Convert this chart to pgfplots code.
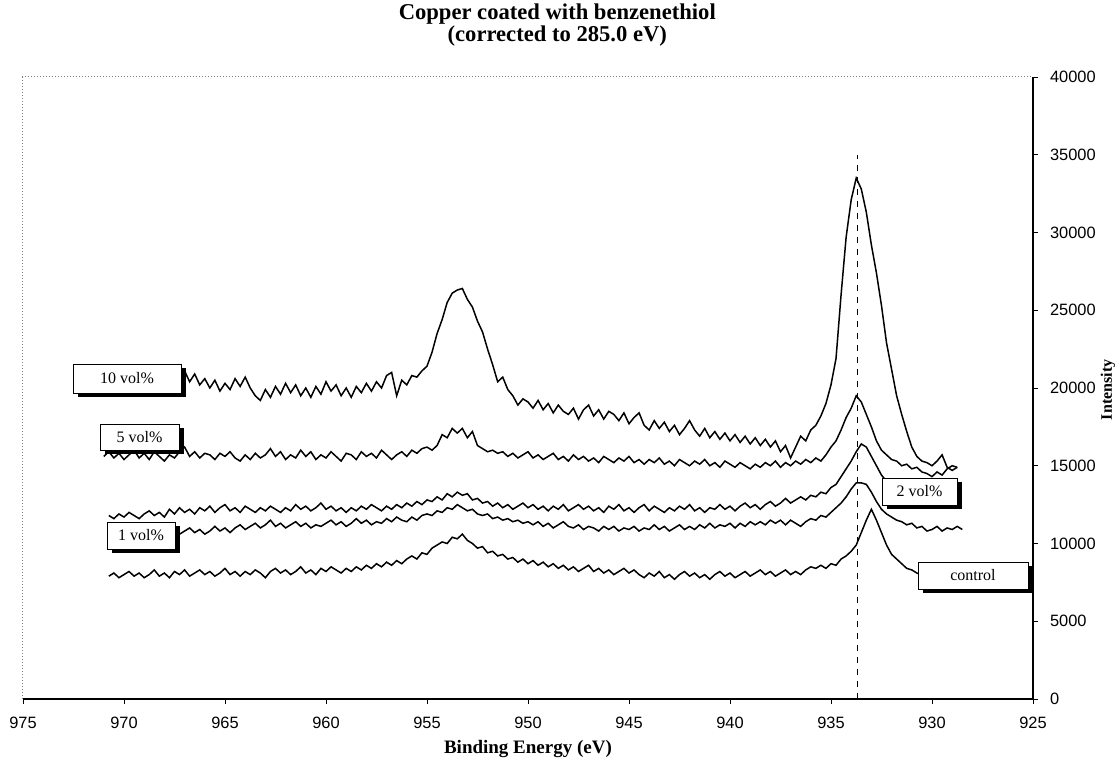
\documentclass[border=0pt]{standalone}
\usepackage{fontspec}
\setmainfont{Liberation Serif}
\newfontfamily\arialfont{Liberation Sans}
\usepackage{pgfplots}
\pgfplotsset{compat=1.18}
\usetikzlibrary{shadows}
\begin{document}
\begin{tikzpicture}
\useasboundingbox (-11.5pt,-33pt) rectangle (546pt,349.5pt);
\begin{axis}[
  at={(0,0)}, anchor=south west,
  scale only axis, width=505pt, height=311pt,
  x dir=reverse, xmin=925, xmax=975, ymin=0, ymax=40000,
  xtick={925,930,...,975}, ytick={0,5000,...,40000},
  scaled y ticks=false, scaled x ticks=false,
  xtick pos=bottom, ytick pos=right, yticklabel pos=right,
  tick align=outside, major tick length=2.5pt,
  axis line style={draw=none},
  tick style={black, line width=0.4pt},
  /pgf/number format/assume math mode=true,
  /pgf/number format/set thousands separator={},
  /pgf/number format/fixed, /pgf/number format/precision=0,
  ticklabel style={font=\arialfont\fontsize{8.2}{9}\selectfont},
  xticklabel shift=3pt,
  yticklabel shift=2.5pt,
  clip=false,
]
\draw[gray, densely dotted, line width=0.5pt] (rel axis cs:0,0) -- (rel axis cs:0,1) -- (rel axis cs:1,1);
\draw[black, line width=0.6pt] (rel axis cs:1,1) -- (rel axis cs:1,0) -- (rel axis cs:0,0);

% 10 vol%
\addplot[black, line width=0.75pt] coordinates {
(971.00,20300)(970.75,20600)(970.50,20100)(970.25,20500)(970.00,20800)(969.75,20200)(969.50,20400)(969.25,20900)(969.00,20300)(968.75,20600)
(968.50,20100)(968.25,20700)(968.00,20400)(967.75,20900)(967.50,20200)(967.25,20800)(967.00,21100)(966.75,20400)(966.50,20900)(966.25,20200)
(966.00,20600)(965.75,20000)(965.50,20500)(965.25,19800)(965.00,20300)(964.75,19900)(964.50,20600)(964.25,20100)(964.00,20700)(963.75,20000)
(963.50,19500)(963.25,19200)(963.00,19900)(962.75,19400)(962.50,20100)(962.25,19600)(962.00,20300)(961.75,19700)(961.50,20200)(961.25,19500)
(961.00,20000)(960.75,19400)(960.50,20100)(960.25,19600)(960.00,20400)(959.75,19800)(959.50,20200)(959.25,19500)(959.00,20000)(958.75,19400)
(958.50,20100)(958.25,19700)(958.00,20300)(957.75,19800)(957.50,20400)(957.25,20000)(957.00,20800)(956.75,21000)(956.50,19500)(956.25,20500)
(956.00,20200)(955.75,20800)(955.50,20700)(955.25,21100)(955.00,21400)(954.75,22300)(954.50,23500)(954.25,24400)(954.00,25500)(953.75,26100)
(953.50,26300)(953.25,26400)(953.00,25700)(952.75,25200)(952.50,24300)(952.25,23600)(952.00,22500)(951.75,21500)(951.50,20400)(951.25,20700)
(951.00,19900)(950.75,19500)(950.50,18900)(950.25,19300)(950.00,19100)(949.75,18700)(949.50,19200)(949.25,18600)(949.00,19000)(948.75,18400)
(948.50,18900)(948.25,18500)(948.00,18300)(947.75,18700)(947.50,18000)(947.25,18600)(947.00,18900)(946.75,18200)(946.50,18600)(946.25,18000)
(946.00,18500)(945.75,18300)(945.50,17900)(945.25,18400)(945.00,17700)(944.75,18100)(944.50,18400)(944.25,17600)(944.00,17300)(943.75,17900)
(943.50,17400)(943.25,17800)(943.00,17200)(942.75,17600)(942.50,17000)(942.25,17400)(942.00,17900)(941.75,17300)(941.50,16900)(941.25,17400)
(941.00,16800)(940.75,17200)(940.50,16700)(940.25,17100)(940.00,16600)(939.75,17000)(939.50,16500)(939.25,16900)(939.00,16400)(938.75,16800)
(938.50,16300)(938.25,16700)(938.00,16200)(937.75,16600)(937.50,15900)(937.25,16300)(937.00,15500)(936.75,16200)(936.50,16900)(936.25,16600)
(936.00,17300)(935.75,17600)(935.50,18200)(935.25,19000)(935.00,20200)(934.75,21900)(934.50,26000)(934.25,29700)(934.00,32100)(933.75,33500)
(933.50,32800)(933.25,31300)(933.00,29200)(932.75,27400)(932.50,25300)(932.25,22900)(932.00,21200)(931.75,19500)(931.50,18300)(931.25,17200)
(931.00,16200)(930.75,15600)(930.50,15300)(930.25,15200)(930.00,15000)(929.75,15300)(929.50,15700)(929.25,14900)(929.00,14700)(928.75,14900)
};
% 5 vol%
\addplot[black, line width=0.75pt] coordinates {
(971.00,15600)(970.75,15900)(970.50,15500)(970.25,15800)(970.00,15400)(969.75,15700)(969.50,16000)(969.25,15500)(969.00,15800)(968.75,15400)
(968.50,15900)(968.25,15600)(968.00,15300)(967.75,15700)(967.50,15500)(967.25,15900)(967.00,16200)(966.75,15600)(966.50,15900)(966.25,15500)
(966.00,15800)(965.75,15700)(965.50,15400)(965.25,15800)(965.00,15600)(964.75,15900)(964.50,15500)(964.25,15300)(964.00,15700)(963.75,15400)
(963.50,15800)(963.25,15500)(963.00,15700)(962.75,16100)(962.50,15600)(962.25,15900)(962.00,15400)(961.75,15700)(961.50,15500)(961.25,16000)
(961.00,15600)(960.75,15900)(960.50,15400)(960.25,15700)(960.00,15500)(959.75,15900)(959.50,15600)(959.25,15300)(959.00,15800)(958.75,15700)
(958.50,15400)(958.25,15900)(958.00,15600)(957.75,15800)(957.50,15500)(957.25,16000)(957.00,15700)(956.75,15400)(956.50,15700)(956.25,15900)
(956.00,15600)(955.75,16000)(955.50,15800)(955.25,16100)(955.00,16200)(954.75,16000)(954.50,16300)(954.25,17000)(954.00,16800)(953.75,17400)
(953.50,17100)(953.25,17400)(953.00,16800)(952.75,17200)(952.50,16300)(952.25,16100)(952.00,15900)(951.75,16000)(951.50,15800)(951.25,15900)
(951.00,15600)(950.75,15800)(950.50,15500)(950.25,15700)(950.00,15900)(949.75,15500)(949.50,15700)(949.25,15400)(949.00,15600)(948.75,15800)
(948.50,15400)(948.25,15600)(948.00,15300)(947.75,15700)(947.50,15400)(947.25,15600)(947.00,15300)(946.75,15500)(946.50,15200)(946.25,15600)
(946.00,15400)(945.75,15200)(945.50,15500)(945.25,15300)(945.00,15600)(944.75,15200)(944.50,15400)(944.25,15100)(944.00,15400)(943.75,15200)
(943.50,15500)(943.25,15100)(943.00,15300)(942.75,15000)(942.50,15400)(942.25,15200)(942.00,15000)(941.75,15300)(941.50,15100)(941.25,15400)
(941.00,15000)(940.75,15200)(940.50,14900)(940.25,15300)(940.00,15100)(939.75,14900)(939.50,15200)(939.25,15000)(939.00,14800)(938.75,15100)
(938.50,14900)(938.25,15200)(938.00,15000)(937.75,15300)(937.50,14900)(937.25,15200)(937.00,15000)(936.75,15300)(936.50,15100)(936.25,15400)
(936.00,15200)(935.75,15500)(935.50,15300)(935.25,15700)(935.00,16200)(934.75,16600)(934.50,17300)(934.25,18100)(934.00,18700)(933.75,19500)
(933.50,19100)(933.25,18300)(933.00,17500)(932.75,16600)(932.50,16000)(932.25,15700)(932.00,15400)(931.75,15300)(931.50,15000)(931.25,15100)
(931.00,14800)(930.75,14900)(930.50,14600)(930.25,14500)(930.00,14300)(929.75,14600)(929.50,14400)(929.25,14800)(929.00,15000)(928.75,14900)
};
% third curve
\addplot[black, line width=0.75pt] coordinates {
(970.75,11800)(970.50,11600)(970.25,11900)(970.00,11700)(969.75,12000)(969.50,11800)(969.25,11600)(969.00,11900)(968.75,12100)
(968.50,11800)(968.25,12000)(968.00,11700)(967.75,12200)(967.50,11900)(967.25,12300)(967.00,12000)(966.75,12200)(966.50,11900)(966.25,12300)
(966.00,12100)(965.75,12400)(965.50,12000)(965.25,12300)(965.00,12500)(964.75,12100)(964.50,12300)(964.25,12000)(964.00,12400)(963.75,12200)
(963.50,12000)(963.25,12300)(963.00,12100)(962.75,12400)(962.50,12200)(962.25,12000)(962.00,12300)(961.75,12100)(961.50,12500)(961.25,12200)
(961.00,12400)(960.75,12100)(960.50,12300)(960.25,12600)(960.00,12200)(959.75,12400)(959.50,12100)(959.25,12300)(959.00,12000)(958.75,12300)
(958.50,12100)(958.25,12400)(958.00,12200)(957.75,12500)(957.50,12300)(957.25,12100)(957.00,12400)(956.75,12200)(956.50,12500)(956.25,12300)
(956.00,12600)(955.75,12400)(955.50,12700)(955.25,12500)(955.00,12800)(954.75,12700)(954.50,13000)(954.25,12800)(954.00,13200)(953.75,13000)
(953.50,13300)(953.25,13100)(953.00,13200)(952.75,12800)(952.50,12900)(952.25,12600)(952.00,12700)(951.75,12400)(951.50,12600)(951.25,12300)
(951.00,12500)(950.75,12200)(950.50,12400)(950.25,12600)(950.00,12300)(949.75,12500)(949.50,12200)(949.25,12400)(949.00,12100)(948.75,12400)
(948.50,12200)(948.25,12500)(948.00,12100)(947.75,12300)(947.50,12500)(947.25,12200)(947.00,12400)(946.75,12100)(946.50,12300)(946.25,12000)
(946.00,12400)(945.75,12200)(945.50,12500)(945.25,12100)(945.00,12300)(944.75,12000)(944.50,12300)(944.25,12500)(944.00,12100)(943.75,12400)
(943.50,12200)(943.25,12000)(943.00,12300)(942.75,12100)(942.50,12400)(942.25,12200)(942.00,12500)(941.75,12100)(941.50,12300)(941.25,12000)
(941.00,12300)(940.75,12200)(940.50,12500)(940.25,12200)(940.00,12400)(939.75,12100)(939.50,12400)(939.25,12600)(939.00,12300)(938.75,12500)
(938.50,12200)(938.25,12500)(938.00,12700)(937.75,12400)(937.50,12600)(937.25,12900)(937.00,12600)(936.75,12800)(936.50,13000)(936.25,12800)
(936.00,13100)(935.75,13000)(935.50,13300)(935.25,13200)(935.00,13600)(934.75,13800)(934.50,14300)(934.25,14800)(934.00,15300)(933.75,15900)
(933.50,16400)(933.25,16200)(933.00,15600)(932.75,15000)(932.50,14400)(932.25,14000)(932.00,13600)(931.75,13400)(931.50,13300)(931.25,13200)
(931.00,13300)(930.75,13200)(930.50,13300)(930.25,13100)(930.00,13200)(929.75,13300)(929.50,13100)(929.25,13200)(929.00,13300)(928.75,13200)
};
% fourth curve
\addplot[black, line width=0.75pt] coordinates {
(970.75,10600)(970.50,10800)(970.25,10500)(970.00,10700)(969.75,10900)(969.50,10600)(969.25,10800)(969.00,10500)(968.75,10700)
(968.50,10900)(968.25,10600)(968.00,10800)(967.75,10700)(967.50,10900)(967.25,10600)(967.00,10800)(966.75,11000)(966.50,10700)(966.25,10900)
(966.00,10600)(965.75,10800)(965.50,11100)(965.25,10800)(965.00,11000)(964.75,10700)(964.50,11000)(964.25,11200)(964.00,10900)(963.75,11100)
(963.50,11300)(963.25,11000)(963.00,11200)(962.75,11500)(962.50,11100)(962.25,11300)(962.00,11000)(961.75,11200)(961.50,11400)(961.25,11100)
(961.00,11300)(960.75,11000)(960.50,11200)(960.25,11100)(960.00,11300)(959.75,11500)(959.50,11200)(959.25,11400)(959.00,11100)(958.75,11300)
(958.50,11600)(958.25,11300)(958.00,11500)(957.75,11200)(957.50,11400)(957.25,11300)(957.00,11600)(956.75,11400)(956.50,11700)(956.25,11500)
(956.00,11400)(955.75,11700)(955.50,11500)(955.25,11800)(955.00,11900)(954.75,11800)(954.50,12100)(954.25,12000)(954.00,12300)(953.75,12200)
(953.50,12500)(953.25,12300)(953.00,12100)(952.75,12200)(952.50,11900)(952.25,11800)(952.00,11900)(951.75,11600)(951.50,11700)(951.25,11500)
(951.00,11600)(950.75,11400)(950.50,11500)(950.25,11300)(950.00,11400)(949.75,11200)(949.50,11400)(949.25,11100)(949.00,11300)(948.75,11000)
(948.50,11200)(948.25,11400)(948.00,11100)(947.75,11000)(947.50,11200)(947.25,10900)(947.00,11100)(946.75,11000)(946.50,10800)(946.25,11100)
(946.00,10900)(945.75,11100)(945.50,10800)(945.25,11000)(945.00,10900)(944.75,11100)(944.50,10800)(944.25,11000)(944.00,10900)(943.75,11200)
(943.50,10900)(943.25,11100)(943.00,10800)(942.75,11000)(942.50,11200)(942.25,10900)(942.00,11100)(941.75,10900)(941.50,11200)(941.25,11000)
(941.00,11300)(940.75,11000)(940.50,11200)(940.25,11100)(940.00,11300)(939.75,11000)(939.50,11300)(939.25,11100)(939.00,11400)(938.75,11200)
(938.50,11400)(938.25,11200)(938.00,11500)(937.75,11300)(937.50,11500)(937.25,11200)(937.00,11500)(936.75,11300)(936.50,11100)(936.25,11400)
(936.00,11600)(935.75,11500)(935.50,11800)(935.25,11700)(935.00,12000)(934.75,12300)(934.50,12600)(934.25,13000)(934.00,13500)(933.75,13900)
(933.50,13900)(933.25,13800)(933.00,13300)(932.75,12700)(932.50,12200)(932.25,11900)(932.00,11700)(931.75,11500)(931.50,11400)(931.25,11200)
(931.00,11300)(930.75,11000)(930.50,11100)(930.25,10800)(930.00,10900)(929.75,11100)(929.50,10800)(929.25,11000)(929.00,10900)(928.75,11100)(928.50,10900)
};
% control
\addplot[black, line width=0.75pt] coordinates {
(970.75,7900)(970.50,8100)(970.25,7800)(970.00,8000)(969.75,8200)(969.50,7900)(969.25,8100)(969.00,7800)(968.75,8000)
(968.50,8300)(968.25,7900)(968.00,8100)(967.75,7800)(967.50,8200)(967.25,8000)(967.00,8300)(966.75,7900)(966.50,8100)(966.25,8300)
(966.00,8000)(965.75,8200)(965.50,7900)(965.25,8100)(965.00,8400)(964.75,8000)(964.50,8200)(964.25,7900)(964.00,8200)(963.75,8000)
(963.50,8300)(963.25,8100)(963.00,7800)(962.75,8200)(962.50,8400)(962.25,8100)(962.00,8300)(961.75,8000)(961.50,8200)(961.25,8500)
(961.00,8100)(960.75,8300)(960.50,8000)(960.25,8400)(960.00,8200)(959.75,8500)(959.50,8300)(959.25,8100)(959.00,8400)(958.75,8200)
(958.50,8500)(958.25,8300)(958.00,8600)(957.75,8400)(957.50,8700)(957.25,8500)(957.00,8800)(956.75,8600)(956.50,8900)(956.25,8700)
(956.00,9000)(955.75,9200)(955.50,9000)(955.25,9400)(955.00,9300)(954.75,9700)(954.50,9900)(954.25,10100)(954.00,10000)(953.75,10400)
(953.50,10300)(953.25,10600)(953.00,10200)(952.75,10000)(952.50,9700)(952.25,9800)(952.00,9400)(951.75,9500)(951.50,9200)(951.25,9300)
(951.00,9000)(950.75,9100)(950.50,8800)(950.25,9000)(950.00,8700)(949.75,8900)(949.50,8600)(949.25,8800)(949.00,8500)(948.75,8700)
(948.50,8400)(948.25,8600)(948.00,8300)(947.75,8500)(947.50,8200)(947.25,8400)(947.00,8600)(946.75,8200)(946.50,8400)(946.25,8100)
(946.00,8300)(945.75,8000)(945.50,8200)(945.25,8400)(945.00,8100)(944.75,8300)(944.50,8000)(944.25,7800)(944.00,8100)(943.75,7900)
(943.50,8200)(943.25,7800)(943.00,8000)(942.75,7700)(942.50,8000)(942.25,8200)(942.00,7900)(941.75,8100)(941.50,7800)(941.25,8000)
(941.00,7700)(940.75,8000)(940.50,8200)(940.25,7900)(940.00,8100)(939.75,7800)(939.50,8000)(939.25,8200)(939.00,7900)(938.75,8100)
(938.50,8300)(938.25,8000)(938.00,8200)(937.75,7900)(937.50,8100)(937.25,8300)(937.00,8000)(936.75,8200)(936.50,8000)(936.25,8300)
(936.00,8500)(935.75,8400)(935.50,8600)(935.25,8400)(935.00,8700)(934.75,8600)(934.50,9000)(934.25,9200)(934.00,9500)(933.75,9900)
(933.50,10700)(933.25,11500)(933.00,12200)(932.75,11500)(932.50,10700)(932.25,9900)(932.00,9300)(931.75,9000)(931.50,8700)(931.25,8400)
(931.00,8300)(930.75,8100)(930.50,8000)(930.25,7900)(930.00,8000)(929.75,7900)(929.50,8000)(929.25,7900)(929.00,8000)(928.75,7900)
};
% dashed reference line
\addplot[black, dashed, line width=0.6pt] coordinates {(933.7,0) (933.7,35000)};

\tikzset{lbl/.style={draw=black, line width=0.4pt, fill=white, inner sep=0pt,
  font=\fontsize{8}{9}\selectfont,
  drop shadow={shadow xshift=2.5pt, shadow yshift=-2pt, fill=black, opacity=1}}}
\node[lbl, minimum width=54pt, minimum height=14.5pt] at (axis cs:969.85,20611) {10 vol\%};
\node[lbl, minimum width=39.5pt, minimum height=13pt] at (axis cs:969.23,16850) {5 vol\%};
\node[lbl, minimum width=34pt, minimum height=13.5pt] at (axis cs:969.16,10515) {1 vol\%};
\node[lbl, minimum width=37.5pt, minimum height=13.5pt] at (axis cs:930.62,13344) {2 vol\%};
\node[lbl, minimum width=55pt, minimum height=13.5pt] at (axis cs:927.97,7942) {control};

\node[font=\bfseries\fontsize{11.3}{9}\selectfont, align=center] at ([yshift=26pt]rel axis cs:0.529,1) {Copper coated with benzenethiol\\(corrected to 285.0 eV)};
\node[font=\bfseries\fontsize{9.5}{9}\selectfont] at ([yshift=-25pt]rel axis cs:0.5,0) {Binding Energy (eV)};
\node[font=\bfseries\fontsize{8}{9}\selectfont, rotate=90] at ([xshift=37.5pt]rel axis cs:1,0.497) {Intensity};
\end{axis}
\end{tikzpicture}
\end{document}
